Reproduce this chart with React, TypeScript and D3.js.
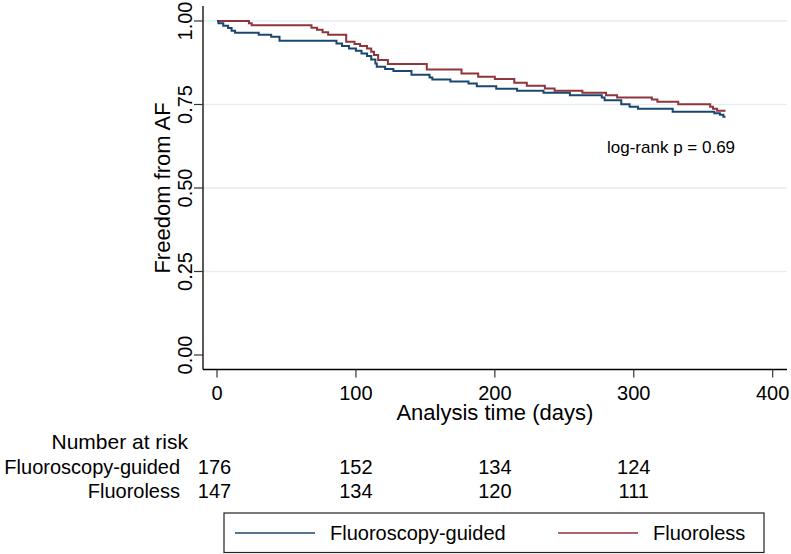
import React from 'react';
import * as d3 from 'd3';

// Kaplan-Meier step data (days, survival)
const guidedTimes = [0, 1, 4.5, 8, 10.5, 13, 30, 39, 45, 86, 90, 95, 100, 104, 108, 111, 114, 115, 121, 127, 140, 153, 155, 168, 181, 187, 201, 216, 235, 254, 277, 279, 291, 297, 303, 328, 358, 362, 364.5, 366];
const guidedSurv = [1, 0.993, 0.986, 0.979, 0.971, 0.965, 0.959, 0.953, 0.941, 0.933, 0.925, 0.918, 0.911, 0.903, 0.895, 0.885, 0.873, 0.863, 0.856, 0.85, 0.839, 0.831, 0.825, 0.819, 0.813, 0.805, 0.797, 0.791, 0.785, 0.778, 0.771, 0.763, 0.751, 0.743, 0.737, 0.728, 0.724, 0.719, 0.713, 0.713];

const fluorolessTimes = [0, 23, 25, 68, 72, 76, 80, 93, 99, 103, 108, 111, 113, 116, 123, 151, 176, 188, 200, 214, 223, 236, 243, 263, 280, 288, 313, 317, 332, 355, 357, 360, 366];
const fluorolessSurv = [1, 0.993, 0.987, 0.98, 0.974, 0.966, 0.959, 0.938, 0.931, 0.925, 0.918, 0.908, 0.898, 0.883, 0.871, 0.855, 0.843, 0.833, 0.826, 0.815, 0.806, 0.798, 0.791, 0.785, 0.778, 0.771, 0.765, 0.758, 0.751, 0.743, 0.737, 0.731, 0.731];

const xTicks = [0, 100, 200, 300, 400];
const yTicks = [0, 0.25, 0.5, 0.75, 1];

const riskTimes = [0, 100, 200, 300];
const riskGuided = [176, 152, 134, 124];
const riskFluoroless = [147, 134, 120, 111];

const seriesNames = ['Fluoroscopy-guided', 'Fluoroless'];
const seriesColors = ['#1a476f', '#90353b'];

const font = "'Liberation Sans', Arial, Helvetica, sans-serif";

export default function App() {
  const width = 791;
  const height = 554;

  const x = d3.scaleLinear().domain([0, 400]).range([217, 772.7]);
  const y = d3.scaleLinear().domain([0, 1]).range([355, 21]);

  const axisLeft = 203;
  const axisBottom = 369.5;
  const plotRight = 787;
  const plotTop = 6;

  const line = d3
    .line<[number, number]>()
    .x(d => x(d[0]))
    .y(d => y(d[1]))
    .curve(d3.curveStepAfter);

  const series = [
    d3.zip(guidedTimes, guidedSurv) as [number, number][],
    d3.zip(fluorolessTimes, fluorolessSurv) as [number, number][]
  ];

  const rows = [riskGuided, riskFluoroless];
  const rowBaselines = [474, 498];

  return (
    <div style={{ position: 'absolute', left: 0, top: 0 }}>
      <svg width={width} height={height} style={{ display: 'block', background: '#fff' }} fontFamily={font}>
        {/* gridlines */}
        {yTicks.filter(t => t > 0).map(t => (
          <line key={'g' + t} x1={axisLeft} x2={plotRight} y1={y(t)} y2={y(t)} stroke="#e6eef1" strokeWidth={1.3} />
        ))}

        {/* curves: fluoroless under, guided on top */}
        {[1, 0].map(i => (
          <path key={'s' + i} d={line(series[i]) || ''} fill="none" stroke={seriesColors[i]} strokeWidth={2} />
        ))}

        {/* y axis */}
        <line x1={axisLeft} x2={axisLeft} y1={plotTop} y2={axisBottom} stroke="#000" strokeWidth={1.3} />
        {yTicks.map(t => (
          <g key={'y' + t}>
            <line x1={axisLeft - 9} x2={axisLeft} y1={y(t)} y2={y(t)} stroke="#333" strokeWidth={1.2} />
            <text
              transform={`translate(191.5,${y(t)}) rotate(-90)`}
              textAnchor="middle"
              fontSize={20}
              fill="#000"
            >
              {d3.format('.2f')(t)}
            </text>
          </g>
        ))}
        <text transform={`translate(170,${y(0.5)}) rotate(-90)`} textAnchor="middle" fontSize={22} fill="#000">
          Freedom from AF
        </text>

        {/* x axis */}
        <line x1={axisLeft} x2={plotRight} y1={axisBottom} y2={axisBottom} stroke="#000" strokeWidth={1.3} />
        {xTicks.map(t => (
          <g key={'x' + t}>
            <line x1={x(t)} x2={x(t)} y1={axisBottom} y2={axisBottom + 8} stroke="#333" strokeWidth={1.2} />
            <text x={x(t)} y={399.5} textAnchor="middle" fontSize={20} fill="#000">
              {t}
            </text>
          </g>
        ))}
        <text x={x(200)} y={420} textAnchor="middle" fontSize={22} fill="#000">
          Analysis time (days)
        </text>

        <text x={607} y={153} fontSize={17} fill="#000">
          log-rank p = 0.69
        </text>

        {/* number at risk table */}
        <text x={188} y={449} textAnchor="end" fontSize={21} fill="#000">
          Number at risk
        </text>
        {rows.map((row, r) => (
          <g key={'r' + r}>
            <text x={180} y={rowBaselines[r]} textAnchor="end" fontSize={20} fill="#000">
              {seriesNames[r]}
            </text>
            {row.map((n, j) => (
              <text key={j} x={x(riskTimes[j]) - (j === 0 ? 2.5 : 0)} y={rowBaselines[r]} textAnchor="middle" fontSize={20} fill="#000">
                {n}
              </text>
            ))}
          </g>
        ))}

        {/* legend */}
        <rect x={224} y={513} width={540} height={39.5} fill="#fff" stroke="#222" strokeWidth={1.2} />
        <line x1={235} x2={315} y1={533} y2={533} stroke={seriesColors[0]} strokeWidth={1.5} />
        <text x={330} y={540} fontSize={20} fill="#000">
          {seriesNames[0]}
        </text>
        <line x1={558} x2={638} y1={533} y2={533} stroke={seriesColors[1]} strokeWidth={1.5} />
        <text x={653} y={540} fontSize={20} fill="#000">
          {seriesNames[1]}
        </text>
      </svg>
    </div>
  );
}
